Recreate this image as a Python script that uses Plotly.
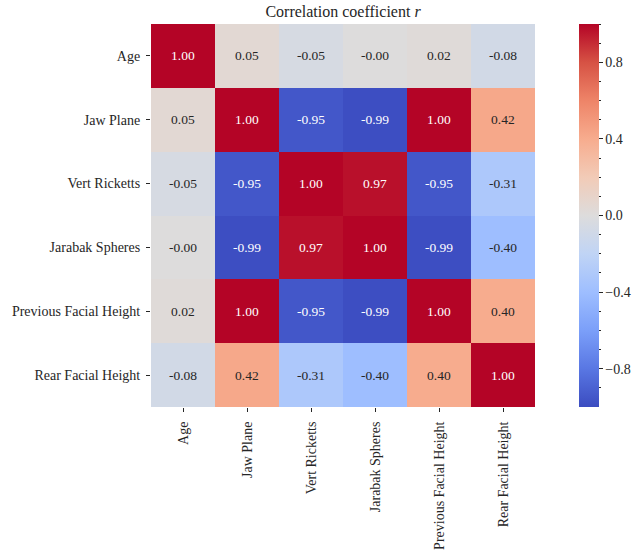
import plotly.graph_objects as go
from plotly.colors import sample_colorscale, unlabel_rgb

# Variables and their pairwise Pearson correlation coefficients
labels = ["Age", "Jaw Plane", "Vert Ricketts", "Jarabak Spheres",
          "Previous Facial Height", "Rear Facial Height"]

r_age = [1.00, 0.05, -0.05, -0.0, 0.02, -0.08]
r_jaw = [0.05, 1.00, -0.95, -0.99, 1.00, 0.42]
r_vert = [-0.05, -0.95, 1.00, 0.97, -0.95, -0.31]
r_jarabak = [-0.0, -0.99, 0.97, 1.00, -0.99, -0.40]
r_prev = [0.02, 1.00, -0.95, -0.99, 1.00, 0.40]
r_rear = [-0.08, 0.42, -0.31, -0.40, 0.40, 1.00]

cbar_major = [-0.8, -0.4, 0.0, 0.4, 0.8]
cbar_minor = [-0.9, -0.7, -0.6, -0.5, -0.3, -0.2, -0.1, 0.1, 0.2, 0.3,
              0.5, 0.6, 0.7, 0.9, 1.0]

z = [r_age, r_jaw, r_vert, r_jarabak, r_prev, r_rear]

# Diverging blue-grey-red palette (coolwarm)
cw_hex = ["#3b4cc0", "#5977e3", "#7b9ff9", "#9ebeff", "#c0d4f5", "#dddcdc",
          "#f2cbb7", "#f7ac8e", "#ee8468", "#d65244", "#b40426"]
coolwarm = [[i / (len(cw_hex) - 1), c] for i, c in enumerate(cw_hex)]

FONT = "Liberation Serif"
DARK = "#262626"
CB_X = (579 - 151) / 384


def luminance(rgb):
    vals = []
    for c in rgb:
        c = c / 255.0
        vals.append(c / 12.92 if c <= 0.03928 else ((c + 0.055) / 1.055) ** 2.4)
    return 0.2126 * vals[0] + 0.7152 * vals[1] + 0.0722 * vals[2]


fig = go.Figure()

fig.add_trace(go.Heatmap(
    z=z, x=labels, y=labels,
    zmin=-1, zmax=1, colorscale=coolwarm,
    hoverinfo="skip",
    colorbar=dict(
        x=CB_X, xanchor="left", xpad=0, ypad=0,
        y=0.5, yanchor="middle", len=1, lenmode="fraction",
        thickness=20, outlinewidth=0,
        tickmode="array", tickvals=cbar_major, tickformat=".1f",
        ticks="outside", ticklen=4, tickwidth=1, tickcolor=DARK,
        tickfont=dict(family=FONT, size=14, color=DARK),
    ),
))

# Second colour bar on top carrying the minor ticks
fig.add_trace(go.Scatter(
    x=[None], y=[None], mode="markers", hoverinfo="skip", showlegend=False,
    marker=dict(
        color=[0], cmin=-1, cmax=1, colorscale=coolwarm, showscale=True,
        colorbar=dict(
            x=CB_X, xanchor="left", xpad=0, ypad=0,
            y=0.5, yanchor="middle", len=1, lenmode="fraction",
            thickness=20, outlinewidth=0,
            tickmode="array", tickvals=cbar_minor,
            ticktext=["" for _ in cbar_minor],
            ticks="outside", ticklen=2, tickwidth=1, tickcolor=DARK,
            tickfont=dict(family=FONT, size=14, color=DARK),
        ),
    ),
))

# Cell annotations: light text on dark cells, dark text on light cells
annotations = []
for i, row in enumerate(z):
    for j, v in enumerate(row):
        rgb = unlabel_rgb(sample_colorscale(coolwarm, [(v + 1) / 2])[0])
        color = DARK if luminance(rgb) > 0.408 else "white"
        annotations.append(dict(
            x=labels[j], y=labels[i], text=f"{v:.2f}", showarrow=False,
            font=dict(family=FONT, size=13.5, color=color),
        ))

fig.update_layout(
    width=635, height=550,
    margin=dict(l=151, r=100, t=24, b=143, autoexpand=False),
    paper_bgcolor="white", plot_bgcolor="white",
    font=dict(family=FONT, size=14, color=DARK),
    title=dict(text="Correlation coefficient <i>r</i>", x=0.5, xref="paper",
               y=1 - 11 / 550, yref="container", yanchor="middle",
               xanchor="center", font=dict(family=FONT, size=16, color=DARK)),
    annotations=annotations,
    showlegend=False,
)

fig.update_xaxes(
    type="category", tickangle=-90, ticks="outside", ticklen=4,
    tickwidth=1, tickcolor=DARK, showgrid=False, zeroline=False,
    showline=False, ticklabelstandoff=4, automargin=False,
    tickfont=dict(family=FONT, size=14, color=DARK),
)
fig.update_yaxes(
    type="category", autorange="reversed", ticks="outside", ticklen=4,
    tickwidth=1, tickcolor=DARK, showgrid=False, zeroline=False,
    showline=False, ticklabelstandoff=3, automargin=False,
    tickfont=dict(family=FONT, size=14, color=DARK),
)

fig.write_html("out.html")
